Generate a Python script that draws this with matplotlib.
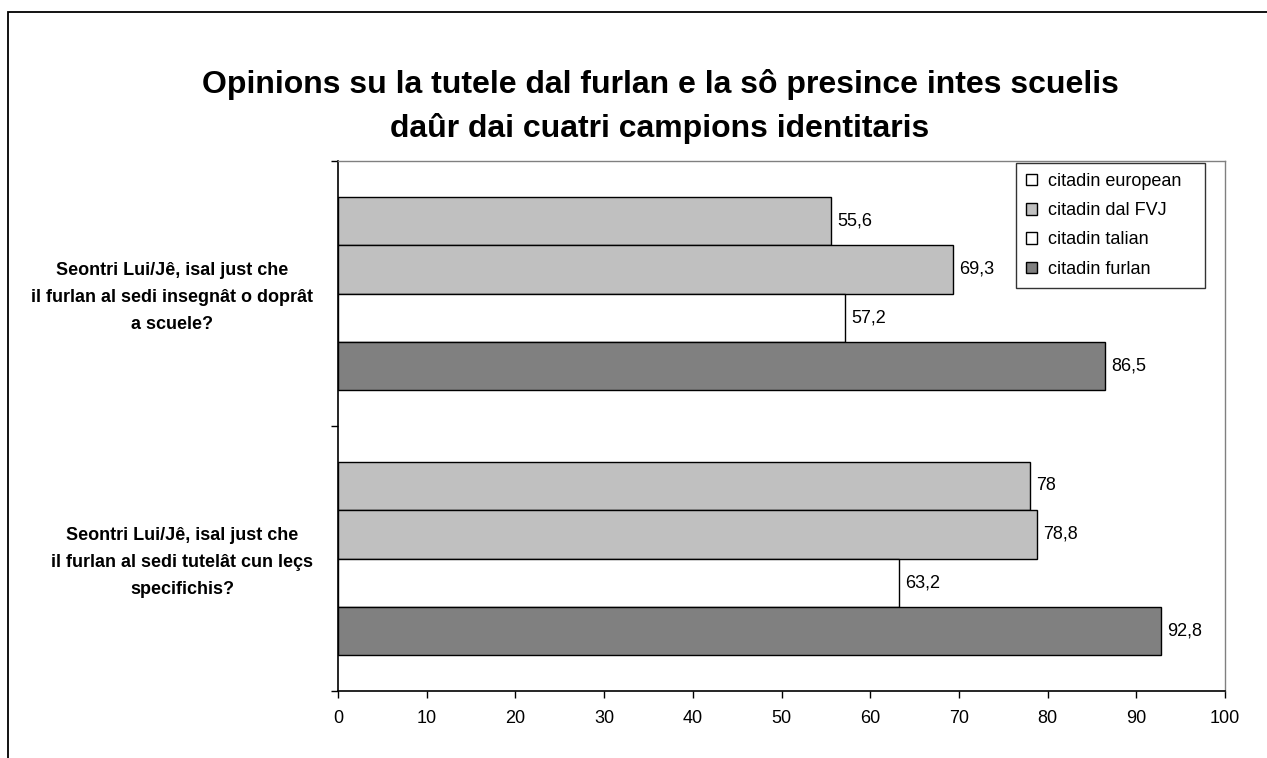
import matplotlib
matplotlib.use("Agg")
import matplotlib.pyplot as plt
from matplotlib.patches import Patch, Rectangle
from matplotlib.transforms import blended_transform_factory
import numpy as np

plt.rcParams['font.family'] = ['Liberation Sans', 'DejaVu Sans']

# dati
questions = ['Seontri Lui/Jê, isal just che\nil furlan al sedi insegnât o doprât\na scuele?',
             'Seontri Lui/Jê, isal just che\nil furlan al sedi tutelât cun leçs\nspecifichis?']
series = ['citadin european', 'citadin dal FVJ', 'citadin talian', 'citadin furlan']
european = [55.6, 78]
fvj = [69.3, 78.8]
talian = [57.2, 63.2]
furlan = [86.5, 92.8]

bar_colors = ['#c0c0c0', '#c0c0c0', '#ffffff', '#808080']
legend_colors = ['#ffffff', '#c0c0c0', '#ffffff', '#808080']

W, H = 1267, 758
fig = plt.figure(figsize=(W/100, H/100), dpi=100)
ax = fig.add_axes([338/W, 1-691/H, (1225-338)/W, (691-161)/H])

# cornise dal grafic
fig.patches.append(Rectangle((8/W, -0.1), 1.2, 1-12/H+0.1, transform=fig.transFigure,
                             fill=False, edgecolor='black', linewidth=1.3))

ypos = np.array([1, 0])
h = 0.183
offsets = [1.5*h, 0.5*h, -0.5*h, -1.5*h]
for vals, off, col in zip([european, fvj, talian, furlan], offsets, bar_colors):
    bars = ax.barh(ypos + off, vals, height=h, color=col, edgecolor='black', linewidth=1)
    for b, v in zip(bars, vals):
        txt = ('%g' % v).replace('.', ',')
        ax.annotate(txt, (v, b.get_y() + h/2), xytext=(4.5, 0), textcoords='offset points',
                    va='center', ha='left', fontsize=13)

ax.set_xlim(0, 100)
ax.set_ylim(-0.5, 1.5)
ax.set_xticks(np.arange(0, 101, 10))
ax.set_yticks([-0.5, 0.5, 1.5])
ax.set_yticklabels([])
ax.tick_params(axis='x', direction='out', length=5, width=1, labelsize=13, pad=9)
ax.tick_params(axis='y', direction='out', length=5, width=1)
for s in ['top', 'right']:
    ax.spines[s].set_color('#808080')
    ax.spines[s].set_linewidth(1)
for s in ['left', 'bottom']:
    ax.spines[s].set_color('black')
    ax.spines[s].set_linewidth(1.2)

# etichetis des domandis a man çampe
trans = blended_transform_factory(fig.transFigure, ax.transData)
label_x = [172, 182]
for y, q, lx in zip(ypos, questions, label_x):
    ax.text(lx/W, y - 0.015, q, transform=trans, ha='center', va='center',
            fontsize=13, fontweight='bold', linespacing=1.75)

handles = [Patch(facecolor=c, edgecolor='black', linewidth=1) for c in legend_colors]
leg = ax.legend(handles, series, loc='upper left', mode='expand',
                bbox_to_anchor=(1016/W, 1-283/H, 189/W, 120/H),
                bbox_transform=fig.transFigure, fontsize=13, frameon=True, fancybox=False,
                handlelength=0.6, handleheight=0.6, handletextpad=0.65, labelspacing=0.68,
                borderpad=0.55, borderaxespad=0)
leg.get_frame().set_edgecolor('black')
leg.get_frame().set_linewidth(1)

fig.text(660/W, 1-85/H, 'Opinions su la tutele dal furlan e la sô presince intes scuelis',
         ha='center', va='center', fontsize=23, fontweight='bold')
fig.text(660/W, 1-128/H, 'daûr dai cuatri campions identitaris',
         ha='center', va='center', fontsize=23, fontweight='bold')

fig.savefig('out.png', dpi=100)
